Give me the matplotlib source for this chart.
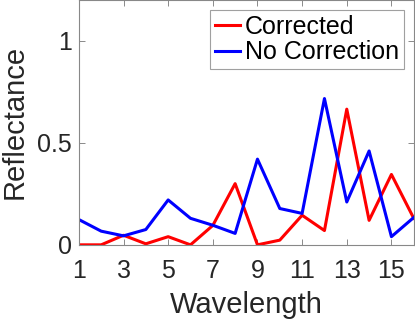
import matplotlib.pyplot as plt

wavelength = list(range(1, 17))
corrected = [0.0, 0.0, 0.047, 0.005, 0.04, 0.0, 0.095, 0.30, 0.0, 0.023,
             0.145, 0.07, 0.665, 0.12, 0.345, 0.13]
no_correction = [0.124, 0.067, 0.044, 0.075, 0.22, 0.13, 0.096, 0.056, 0.42, 0.178,
                 0.154, 0.717, 0.21, 0.46, 0.04, 0.134]
x_ticks = [1, 3, 5, 7, 9, 11, 13, 15]
y_ticks = [0, 0.5, 1]

plt.rcParams['font.family'] = ['Liberation Sans', 'DejaVu Sans']

fig = plt.figure(figsize=(4.15, 3.23), dpi=100)
ax = fig.add_axes([0.19, 0.242, 0.807, 0.758])

ax.plot(wavelength, corrected, color='red', lw=2.2, label='Corrected')
ax.plot(wavelength, no_correction, color='blue', lw=2.2, label='No Correction')

ax.set_xlim(1, 16)
ax.set_ylim(0, 1.2)
ax.set_xticks(x_ticks)
ax.set_yticks(y_ticks)
ax.set_yticklabels(['0', '0.5', '1'])
ax.tick_params(direction='in', length=4, width=0.6, color='#777777',
               labelsize=18, labelcolor='#262626', top=True, right=True)
ax.tick_params(axis='x', pad=10)
ax.tick_params(axis='y', pad=5)
for s in ax.spines.values():
    s.set_color('#888888')
    s.set_linewidth(0.8)

ax.set_xlabel('Wavelength', fontsize=21, color='#262626', labelpad=6)
ax.set_ylabel('Reflectance', fontsize=21, color='#262626', labelpad=6.5)

leg = ax.legend(loc='upper right', fontsize=18, frameon=True, fancybox=False,
                edgecolor='#888888', handlelength=1.0, handletextpad=0.2,
                borderpad=0.2, labelspacing=0.05, borderaxespad=0.4)
leg.get_frame().set_linewidth(0.8)
for t in leg.get_texts():
    t.set_color('#000000')

fig.savefig('out.png', dpi=100)
